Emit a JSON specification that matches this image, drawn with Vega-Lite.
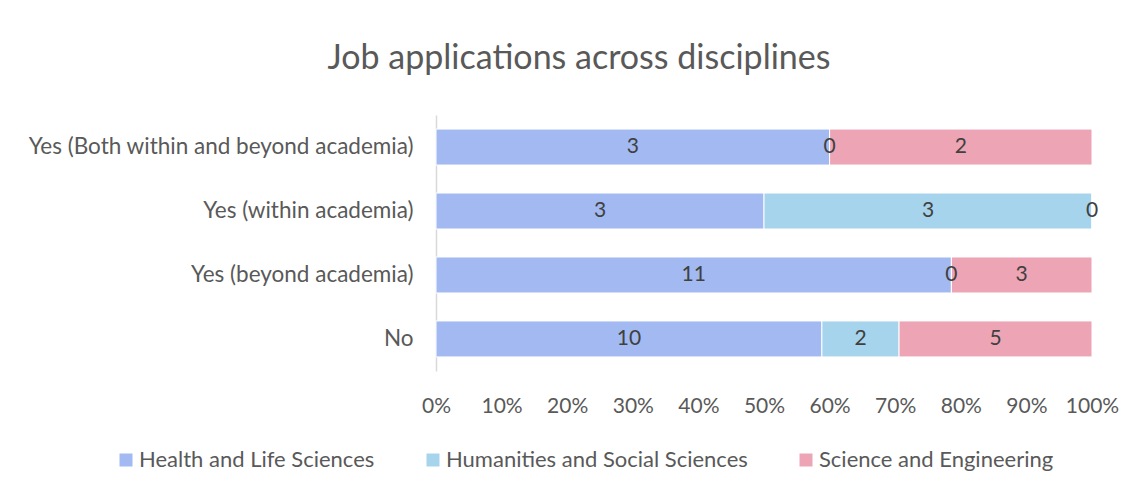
{
  "$schema": "https://vega.github.io/schema/vega-lite/v6.json",
  "width": 656,
  "height": 256,
  "autosize": {"type": "none"},
  "padding": {"left": 436, "top": 115, "right": 52, "bottom": 131},
  "background": "white",
  "config": {"view": {"stroke": null}, "font": "Lato"},
  "title": {
    "text": "Job applications across disciplines",
    "fontSize": 34,
    "fontWeight": "normal",
    "color": "#595959",
    "font": "Lato",
    "anchor": "middle",
    "frame": "group",
    "baseline": "alphabetic",
    "offset": 12,
    "dx": -185
  },
  "data": {
    "values": [
      {"response": "Yes (Both within and beyond academia)", "discipline": "Health and Life Sciences", "count": 3},
      {"response": "Yes (Both within and beyond academia)", "discipline": "Humanities and Social Sciences", "count": 0},
      {"response": "Yes (Both within and beyond academia)", "discipline": "Science and Engineering", "count": 2},
      {"response": "Yes (within academia)", "discipline": "Health and Life Sciences", "count": 3},
      {"response": "Yes (within academia)", "discipline": "Humanities and Social Sciences", "count": 3},
      {"response": "Yes (within academia)", "discipline": "Science and Engineering", "count": 0},
      {"response": "Yes (beyond academia)", "discipline": "Health and Life Sciences", "count": 11},
      {"response": "Yes (beyond academia)", "discipline": "Humanities and Social Sciences", "count": 0},
      {"response": "Yes (beyond academia)", "discipline": "Science and Engineering", "count": 3},
      {"response": "No", "discipline": "Health and Life Sciences", "count": 10},
      {"response": "No", "discipline": "Humanities and Social Sciences", "count": 2},
      {"response": "No", "discipline": "Science and Engineering", "count": 5}
    ]
  },
  "transform": [
    {"stack": "count", "groupby": ["response"], "sort": [{"field": "discipline", "order": "ascending"}], "offset": "normalize", "as": ["x0", "x1"]},
    {"calculate": "(datum.x0 + datum.x1) / 2", "as": "mid"}
  ],
  "encoding": {
    "y": {
      "field": "response",
      "type": "nominal",
      "sort": ["Yes (Both within and beyond academia)", "Yes (within academia)", "Yes (beyond academia)", "No"],
      "scale": {"paddingInner": 0.4375, "paddingOuter": 0.22},
      "axis": {
        "title": null,
        "domainColor": "#d9d9d9",
        "domainWidth": 1.5,
        "ticks": false,
        "labelPadding": 23,
        "labelFontSize": 22.5,
        "labelColor": "#595959",
        "labelFont": "Lato",
        "labelLimit": 500
      }
    }
  },
  "layer": [
    {
      "mark": {"type": "bar", "stroke": "white", "strokeWidth": 1},
      "encoding": {
        "x": {
          "field": "x0",
          "type": "quantitative",
          "scale": {"domain": [0, 1], "nice": false},
          "axis": {
            "title": null,
            "format": "%",
            "values": [0, 0.1, 0.2, 0.3, 0.4, 0.5, 0.6, 0.7, 0.8, 0.9, 1],
            "domain": false,
            "ticks": false,
            "grid": false,
            "labelPadding": 24,
            "labelFontSize": 21,
            "labelColor": "#595959",
            "labelFont": "Lato",
            "labelFlush": false
          }
        },
        "x2": {"field": "x1"},
        "color": {
          "field": "discipline",
          "type": "nominal",
          "scale": {
            "domain": ["Health and Life Sciences", "Humanities and Social Sciences", "Science and Engineering"],
            "range": ["#a2b9f1", "#a6d4ed", "#eda4b5"]
          },
          "legend": {
            "title": null,
            "orient": "none",
            "direction": "horizontal",
            "legendX": -321,
            "legendY": 334,
            "symbolType": "square",
            "symbolSize": 169,
            "symbolStrokeWidth": 0,
            "labelFontSize": 22,
            "labelColor": "#595959",
            "labelFont": "Lato",
            "labelOffset": 2,
            "columnPadding": 47,
            "labelLimit": 400
          }
        }
      }
    },
    {
      "mark": {"type": "text", "fontSize": 21, "color": "#404040", "font": "Lato", "baseline": "middle", "align": "center"},
      "encoding": {
        "x": {"field": "mid", "type": "quantitative"},
        "text": {"field": "count", "type": "quantitative"}
      }
    }
  ]
}
